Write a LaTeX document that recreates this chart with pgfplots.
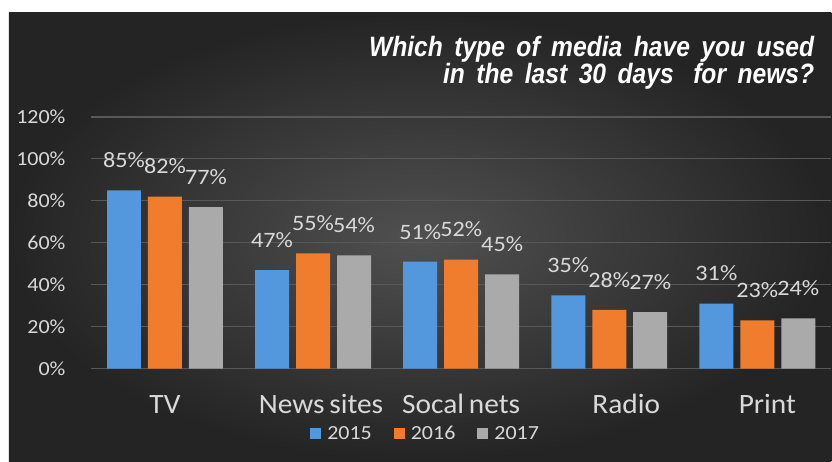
\documentclass[border=0pt]{standalone}
\usepackage{pgfplots}
\pgfplotsset{compat=1.18}
\usepackage{fontspec}
\setmainfont{Carlito}
\newfontfamily\chartfont[FakeStretch=1.1]{Carlito}
\newfontfamily\catfont[FakeStretch=1.05]{Carlito}
\newfontfamily\titlefont[FakeStretch=0.88]{Liberation Sans}
\usetikzlibrary{backgrounds}
\definecolor{cblue}{RGB}{83,151,221}
\definecolor{corange}{RGB}{240,125,45}
\definecolor{cgray}{RGB}{170,170,170}
\definecolor{ctext}{RGB}{217,217,217}
\definecolor{cgrid}{RGB}{88,88,88}
\begin{document}
\begin{tikzpicture}
\begin{axis}[
  scale only axis, width=741bp, height=252bp,
  ybar=7bp, bar width=34bp,
  xmin=-0.5, xmax=4.5, ymin=0, ymax=120,
  xtick={0,1,2,3,4},
  xticklabels={TV,\hspace*{16bp}News\,sites,Socal\,nets,\hspace*{34bp}Radio,\hspace*{20bp}Print},
  ytick={0,20,40,60,80,100,120},
  yticklabel={\pgfmathprintnumber{\tick}\%},
  axis line style={draw=none},
  major tick style={draw=none},
  ymajorgrids, grid style={draw=cgrid, line width=1.2bp},
  yticklabel style={anchor=east, xshift=-22bp, text=ctext, font=\chartfont\fontsize{20bp}{24bp}\selectfont},
  xticklabel style={anchor=base, yshift=-41bp, inner sep=0pt, text=ctext, font=\catfont\fontsize{28bp}{32bp}\selectfont},
  /pgf/number format/assume math mode=true,
  nodes near coords={\pgfmathprintnumber{\pgfplotspointmeta}\%},
  every node near coord/.append style={text=ctext, font=\chartfont\fontsize{22bp}{26bp}\selectfont, yshift=19bp},
  legend columns=3,
  legend style={at={(axis description cs:0.452,-0.258)}, anchor=center, draw=none, fill=none, text=ctext,
    font=\chartfont\fontsize{20bp}{24bp}\selectfont, nodes={inner ysep=0pt},
    /tikz/every even column/.append style={column sep=20bp}},
  legend image code/.code={\fill[#1] (0bp,-5bp) rectangle (11bp,6bp); \path (15bp,0bp);},
  clip=false,
]
\addplot[fill=cblue, draw=none] coordinates {(0,85) (1,47) (2,51) (3,35) (4,31)};
\addplot[fill=corange, draw=none] coordinates {(0,82) (1,55) (2,52) (3,28) (4,23)};
\addplot[fill=cgray, draw=none] coordinates {(0,77) (1,54) (2,45) (3,27) (4,24)};
\legend{2015,2016,2017}
\end{axis}
\begin{pgfonlayer}{background}
\fill[white] (-91bp,-93bp) rectangle (741bp,369bp);
\shade[inner color={rgb,255:red,80;green,80;blue,80}, outer color={rgb,255:red,36;green,36;blue,36}] (-82bp,-93bp) rectangle (741bp,356bp);
\end{pgfonlayer}
\node[anchor=base east, text=white, font=\titlefont\bfseries\itshape\fontsize{28bp}{32bp}\selectfont, inner sep=0pt] at (724bp,312bp) {\spaceskip=11.5bp Which type of media have you used};
\node[anchor=base east, text=white, font=\titlefont\bfseries\itshape\fontsize{28bp}{32bp}\selectfont, inner sep=0pt] at (724bp,285bp) {\spaceskip=11.5bp in the last 30 days\hspace{8bp} for news?};
\end{tikzpicture}
\end{document}
